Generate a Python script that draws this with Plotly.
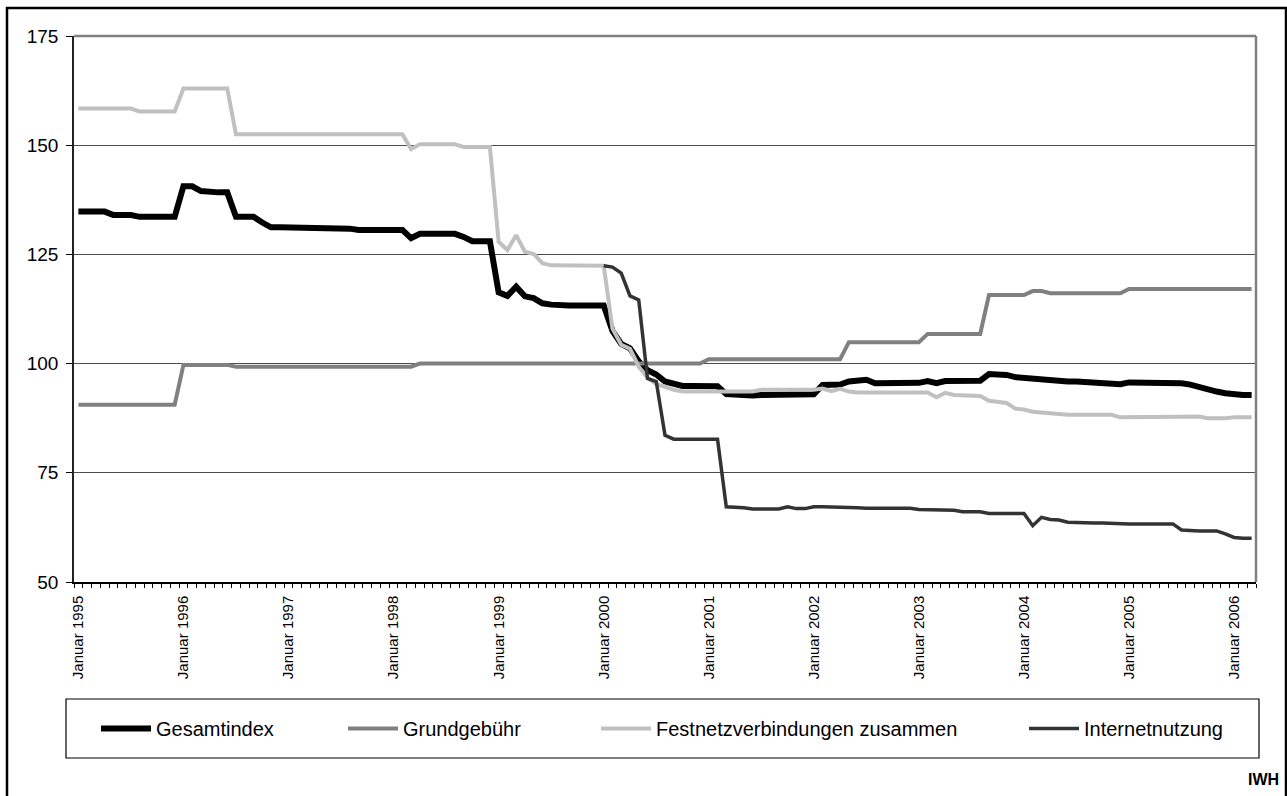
import plotly.graph_objects as go

# Monthly index values, Januar 1995 .. März 2006 (135 months)
years = [1995, 1996, 1997, 1998, 1999, 2000, 2001, 2002, 2003, 2004, 2005, 2006]
tick_labels = ["Januar %d" % y for y in years]
tick_positions = [0, 12, 24, 36, 48, 60, 72, 84, 96, 108, 120, 132]

gesamtindex = [
    134.8, 134.8, 134.8, 134.8, 134.0, 134.0, 134.0, 133.6, 133.6, 133.6, 133.6, 133.6,
    140.6, 140.6, 139.5, 139.2, 139.2, 139.2, 133.6, 133.6, 133.6, 132.3, 131.2, 131.2,
    131.2, 131.2, 131.2, 131.2, 130.9, 130.9, 130.9, 130.9, 130.6, 130.6, 130.6, 130.6,
    130.6, 130.6, 128.7, 129.7, 129.7, 129.7, 129.7, 129.7, 129.0, 128.0, 128.0, 128.0,
    116.3, 115.5, 117.6, 115.4, 115.0, 113.8, 113.5, 113.3, 113.3, 113.3, 113.3, 113.3,
    113.3, 107.5, 104.5, 103.5, 100.5, 98.5, 97.5, 95.9, 95.5, 94.9, 94.9, 94.9,
    94.9, 94.8, 93.0, 92.8, 92.7, 92.7, 92.8, 92.8, 92.9, 92.9, 92.9, 92.9,
    93.0, 95.1, 95.0, 95.2, 95.9, 96.2, 96.3, 95.5, 95.5, 95.5, 95.5, 95.5,
    95.6, 96.0, 95.5, 96.0, 96.1, 96.2, 96.2, 96.1, 97.6, 97.6, 97.4, 96.9,
    96.7, 96.5, 96.6, 96.1, 96.0, 95.9, 95.9, 95.8, 95.8, 95.8, 95.7, 95.3,
    95.7, 95.7, 95.7, 95.7, 95.7, 95.6, 95.5, 95.2, 94.6, 94.0, 93.6, 93.2,
    92.9, 92.8, 92.8,
]

grundgebuehr = [
    90.6, 90.6, 90.6, 90.6, 90.6, 90.6, 90.6, 90.6, 90.6, 90.6, 90.6, 90.6,
    99.7, 99.7, 99.7, 99.7, 99.7, 99.7, 99.3, 99.3, 99.3, 99.3, 99.3, 99.3,
    99.3, 99.3, 99.3, 99.3, 99.3, 99.3, 99.3, 99.3, 99.3, 99.3, 99.3, 99.3,
    99.3, 99.3, 99.3, 100.0, 100.0, 100.0, 100.0, 100.0, 100.0, 100.0, 100.0, 100.0,
    100.0, 100.0, 100.0, 100.0, 100.0, 100.0, 100.0, 100.0, 100.0, 100.0, 100.0, 100.0,
    100.0, 100.0, 100.0, 100.0, 100.0, 100.0, 100.0, 100.0, 100.0, 100.0, 100.0, 100.0,
    101.0, 101.0, 101.0, 101.0, 101.0, 101.0, 101.0, 101.0, 101.0, 101.0, 101.0, 101.0,
    101.0, 101.0, 101.0, 101.0, 104.9, 104.9, 104.9, 104.9, 104.9, 104.9, 104.9, 104.9,
    104.9, 106.8, 106.8, 106.8, 106.8, 106.8, 106.8, 106.8, 115.7, 115.7, 115.7, 115.7,
    115.7, 116.6, 116.6, 116.1, 116.1, 116.1, 116.1, 116.1, 116.1, 116.1, 116.1, 116.1,
    117.1, 117.1, 117.1, 117.1, 117.1, 117.1, 117.1, 117.1, 117.1, 117.1, 117.1, 117.1,
    117.1, 117.1, 117.1,
]

festnetz = [
    158.4, 158.4, 158.4, 158.4, 158.4, 158.4, 158.4, 157.7, 157.7, 157.7, 157.7, 157.7,
    163.0, 163.0, 163.0, 163.0, 163.0, 163.0, 152.5, 152.5, 152.5, 152.5, 152.5, 152.5,
    152.5, 152.5, 152.5, 152.5, 152.5, 152.5, 152.5, 152.5, 152.5, 152.5, 152.5, 152.5,
    152.5, 152.5, 149.1, 150.2, 150.2, 150.2, 150.2, 150.2, 149.6, 149.6, 149.6, 149.6,
    127.9, 126.0, 129.4, 125.6, 125.1, 123.0, 122.5, 122.5, 122.5, 122.5, 122.5, 122.5,
    122.4, 108.0, 104.3, 103.4, 99.3, 96.8, 95.3, 94.7, 94.0, 93.6, 93.6, 93.6,
    93.6, 93.6, 93.6, 93.6, 93.6, 93.6, 94.0, 94.0, 94.0, 94.0, 94.0, 94.0,
    94.0, 94.3, 93.7, 94.2, 93.6, 93.4, 93.4, 93.4, 93.4, 93.4, 93.4, 93.4,
    93.4, 93.4, 92.3, 93.3, 92.8, 92.8, 92.8, 92.6, 91.5, 91.3, 91.0, 89.7,
    89.5, 89.0, 88.8, 88.6, 88.3, 88.3, 88.3, 88.3, 88.3, 88.3, 88.3, 87.7,
    87.8, 87.8, 87.8, 87.8, 87.8, 87.8, 88.0, 88.0, 87.9, 87.5, 87.4, 87.5,
    87.7, 87.7, 87.7,
]

internet = [
    None, None, None, None, None, None, None, None, None, None, None, None,
    None, None, None, None, None, None, None, None, None, None, None, None,
    None, None, None, None, None, None, None, None, None, None, None, None,
    None, None, None, None, None, None, None, None, None, None, None, None,
    None, None, None, None, None, None, None, None, None, None, None, None,
    122.4, 122.1, 120.7, 115.5, 114.6, 96.6, 95.9, 83.6, 82.7, 82.7, 82.7, 82.7,
    82.7, 82.7, 67.2, 67.2, 67.0, 66.7, 66.7, 66.7, 66.7, 67.2, 66.8, 66.8,
    67.2, 67.2, 67.2, 67.2, 67.2, 67.0, 66.9, 66.9, 66.9, 66.9, 66.9, 66.9,
    66.6, 66.6, 66.6, 66.6, 66.4, 66.1, 66.1, 66.1, 65.7, 65.7, 65.7, 65.7,
    65.7, 62.9, 64.8, 64.3, 64.2, 63.7, 63.6, 63.6, 63.5, 63.5, 63.4, 63.4,
    63.3, 63.3, 63.3, 63.3, 63.3, 63.3, 61.9, 61.7, 61.7, 61.7, 61.7, 61.0,
    60.2, 60.0, 60.0,
]

series_names = ["Gesamtindex", "Grundgebühr", "Festnetzverbindungen zusammen", "Internetnutzung"]
series_values = [gesamtindex, grundgebuehr, festnetz, internet]
series_colors = ["#000000", "#808080", "#C0C0C0", "#333333"]
series_widths = [6, 4, 4, 3.5]
legend_ids = ["legend", "legend2", "legend3", "legend4"]

months = list(range(len(gesamtindex)))

# plot area in pixels
W, H = 1287, 796
L, R, T, B = 74, 1256, 36, 582
pw, ph = R - L, B - T


def px(X):
    return (X - L) / pw


def py(Y):
    return (B - Y) / ph


fig = go.Figure()
for name, vals, col, wd, lg in zip(series_names, series_values, series_colors, series_widths, legend_ids):
    fig.add_trace(go.Scatter(
        x=months, y=vals, name=name, mode="lines",
        line=dict(color=col, width=wd),
        legend=lg, connectgaps=False,
    ))

font_family = "Liberation Sans, Arial, sans-serif"
swatch_starts = [102, 349, 602, 1030]
legend_cfg = {}
for lg, sx in zip(legend_ids, swatch_starts):
    legend_cfg[lg] = dict(
        x=px(sx - 6), y=py(728.5), xanchor="left", yanchor="middle",
        orientation="h", bgcolor="rgba(0,0,0,0)", borderwidth=0,
        font=dict(family=font_family, size=20, color="black"),
        itemwidth=50, tracegroupgap=0,
    )

fig.update_layout(
    width=W, height=H,
    margin=dict(l=L, r=W - R, t=T, b=H - B, pad=0),
    paper_bgcolor="white", plot_bgcolor="white",
    font=dict(family=font_family, color="black"),
    showlegend=True,
    xaxis=dict(
        range=[-0.5, len(months) - 0.5],
        tickmode="array", tickvals=tick_positions, ticktext=tick_labels,
        tickangle=-90, ticks="", ticklabelstandoff=6,
        tickfont=dict(family=font_family, size=15, color="black"),
        showgrid=False, zeroline=False,
        showline=True, linecolor="black", linewidth=1.5,
        minor=dict(tickmode="linear", tick0=-0.5, dtick=1, ticks="outside",
                   ticklen=4, tickwidth=1, tickcolor="black", showgrid=False),
    ),
    yaxis=dict(
        range=[50, 175], tickmode="linear", tick0=50, dtick=25,
        ticks="outside", ticklen=6, tickwidth=1, tickcolor="black",
        ticklabelstandoff=4,
        tickfont=dict(family=font_family, size=19, color="black"),
        showgrid=True, gridcolor="#4d4d4d", gridwidth=1,
        zeroline=False, showline=True, linecolor="#222222", linewidth=1.5,
    ),
    shapes=[
        # plot area border (top and right)
        dict(type="line", xref="paper", yref="paper", x0=0, x1=1, y0=1, y1=1,
             line=dict(color="#808080", width=2.5), layer="above"),
        dict(type="line", xref="paper", yref="paper", x0=1, x1=1, y0=0, y1=1,
             line=dict(color="#808080", width=2.5), layer="above"),
        # legend box
        dict(type="rect", xref="paper", yref="paper",
             x0=px(66), x1=px(1259), y0=py(758), y1=py(699),
             line=dict(color="black", width=1.2), fillcolor="rgba(0,0,0,0)"),
        # outer frame
        dict(type="rect", xref="paper", yref="paper",
             x0=px(7), x1=px(1286), y0=py(805), y1=py(8),
             line=dict(color="black", width=2.5), fillcolor="rgba(0,0,0,0)"),
    ],
    annotations=[
        dict(text="<b>IWH</b>", xref="paper", yref="paper", x=px(1281), y=py(779),
             xanchor="right", yanchor="middle", showarrow=False,
             font=dict(family=font_family, size=16, color="black")),
    ],
    **legend_cfg,
)

fig.write_html(
    "out.html",
    config={"displayModeBar": False},
    post_script="document.body.style.margin='0';document.body.style.overflow='hidden';",
)
